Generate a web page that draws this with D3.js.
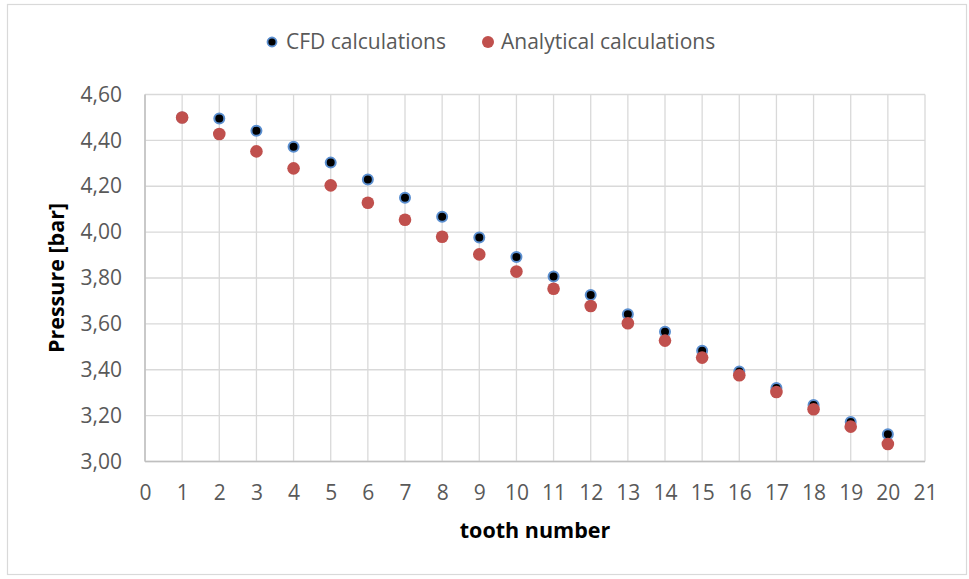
<!DOCTYPE html>
<html><head><meta charset="utf-8">
<script src="https://cdn.jsdelivr.net/npm/d3@7/dist/d3.min.js"></script>
<style>body{margin:0;background:#fff;} svg{display:block;}</style>
</head><body>
<svg id="c" width="969" height="579"></svg>
<script>
const teeth = [1,2,3,4,5,6,7,8,9,10,11,12,13,14,15,16,17,18,19,20];
const cfd = [4.50,4.495,4.442,4.372,4.303,4.229,4.150,4.067,3.977,3.892,3.807,3.726,3.642,3.566,3.483,3.392,3.320,3.246,3.172,3.119];
const analytical = [4.50,4.428,4.352,4.278,4.204,4.128,4.054,3.980,3.903,3.828,3.753,3.678,3.603,3.527,3.453,3.376,3.303,3.228,3.152,3.076];
const xTicks = d3.range(0,22);
const yTicks = [3.0,3.2,3.4,3.6,3.8,4.0,4.2,4.4,4.6];
const seriesNames = ["CFD calculations","Analytical calculations"];

const svg = d3.select("#c");
const font = "'Open Sans', sans-serif";
svg.append("rect").attr("x",7.5).attr("y",4.5).attr("width",959).attr("height",570)
  .attr("fill","#fff").attr("stroke","#d9d9d9").attr("stroke-width",1.2);

const x = d3.scaleLinear().domain([0,21]).range([145,925]);
const y = d3.scaleLinear().domain([3.0,4.6]).range([461.5,94.5]);

const g = svg.append("g");
g.selectAll(".hg").data(yTicks).join("line")
  .attr("x1",x(0)).attr("x2",x(21)).attr("y1",d=>y(d)).attr("y2",d=>y(d))
  .attr("stroke","#d9d9d9").attr("stroke-width",1.3);
g.selectAll(".vg").data(xTicks).join("line")
  .attr("x1",d=>x(d)).attr("x2",d=>x(d)).attr("y1",y(3.0)).attr("y2",y(4.6))
  .attr("stroke","#d9d9d9").attr("stroke-width",1.3);
g.append("line").attr("x1",x(0)).attr("x2",x(21)).attr("y1",y(3)).attr("y2",y(3)).attr("stroke","#bfbfbf").attr("stroke-width",1.5);
g.append("line").attr("x1",x(0)).attr("x2",x(0)).attr("y1",y(3)).attr("y2",y(4.6)).attr("stroke","#bfbfbf").attr("stroke-width",1.5);

const yAxis = d3.axisLeft(y).tickValues(yTicks).tickSize(0).tickPadding(0)
  .tickFormat(d=>d3.format(".2f")(d).replace(".",","));
const ya = svg.append("g").attr("transform","translate(122,0)").call(yAxis);
ya.select(".domain").remove();
ya.selectAll("text").attr("font-family",font).attr("font-size",21).attr("fill","#595959");

const xAxis = d3.axisBottom(x).tickValues(xTicks).tickSize(0).tickPadding(0).tickFormat(d3.format("d"));
const xa = svg.append("g").attr("transform","translate(0,485)").call(xAxis);
xa.select(".domain").remove();
xa.selectAll("text").attr("font-family",font).attr("font-size",21).attr("fill","#595959");

svg.append("text").attr("x",535).attr("y",538).attr("text-anchor","middle")
  .attr("font-family",font).attr("font-weight","bold").attr("font-size",21.5).attr("fill","#000").text("tooth number");
svg.append("text").attr("transform","translate(64,278) rotate(-90)").attr("text-anchor","middle")
  .attr("font-family",font).attr("font-weight","bold").attr("font-size",21.5).attr("fill","#000").text("Pressure [bar]");

const data = teeth.map((t,i)=>({t, c:cfd[i], a:analytical[i]}));
svg.append("g").selectAll("circle").data(data).join("circle")
  .attr("cx",d=>x(d.t)).attr("cy",d=>y(d.c)).attr("r",5)
  .attr("fill","#000").attr("stroke","#5b8fd0").attr("stroke-width",2);
svg.append("g").selectAll("circle").data(data).join("circle")
  .attr("cx",d=>x(d.t)).attr("cy",d=>y(d.a)).attr("r",6.3)
  .attr("fill","#c0504d");

const lg = svg.append("g");
lg.append("circle").attr("cx",272).attr("cy",42).attr("r",4.5).attr("fill","#000").attr("stroke","#5b8fd0").attr("stroke-width",1.8);
lg.append("text").attr("x",286).attr("y",49).attr("font-family",font).attr("font-size",21).attr("fill","#595959").text(seriesNames[0]);
lg.append("circle").attr("cx",488).attr("cy",42).attr("r",6).attr("fill","#c0504d");
lg.append("text").attr("x",501).attr("y",49).attr("font-family",font).attr("font-size",21).attr("fill","#595959").text(seriesNames[1]);
</script>
</body></html>
